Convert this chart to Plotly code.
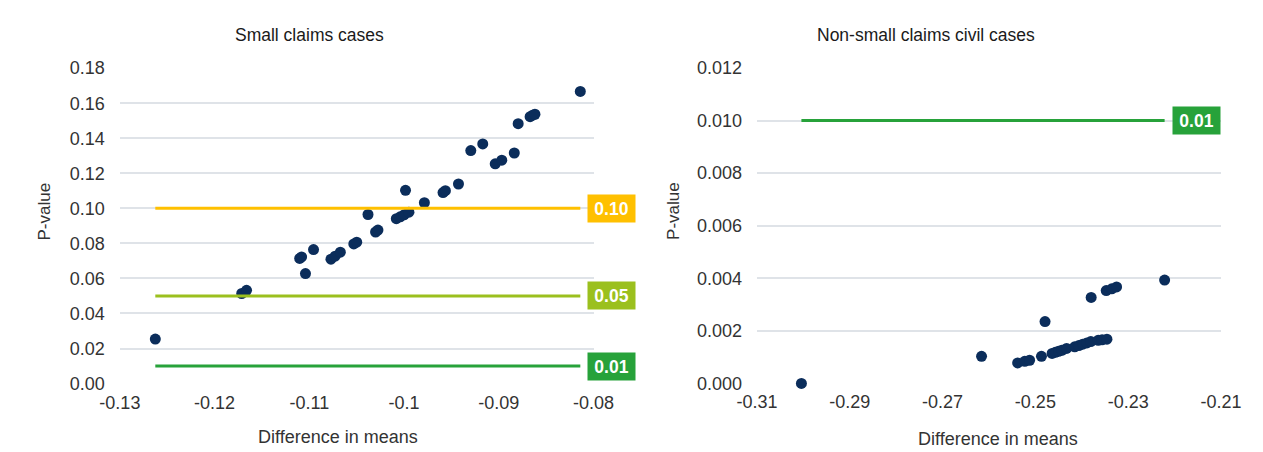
import plotly.graph_objects as go

# ---------------- data ----------------
small_x = [-0.12626, -0.11714, -0.11663, -0.11102, -0.11082, -0.11041, -0.10956,
           -0.10772, -0.10728, -0.10673, -0.10531, -0.10500, -0.10381, -0.10301,
           -0.10276, -0.10082, -0.10041, -0.10000, -0.09949, -0.09985, -0.09786,
           -0.09589, -0.09564, -0.09426, -0.09296, -0.09170, -0.09038, -0.08969,
           -0.08837, -0.08796, -0.08670, -0.08643, -0.08619, -0.08140]
small_p = [0.0254, 0.0514, 0.0532, 0.0714, 0.0723, 0.0628, 0.0765,
           0.0710, 0.0727, 0.0750, 0.0797, 0.0807, 0.0965, 0.0865,
           0.0876, 0.0941, 0.0952, 0.0963, 0.0978, 0.1103, 0.1032,
           0.1090, 0.1101, 0.1139, 0.1330, 0.1368, 0.1254, 0.1275,
           0.1316, 0.1483, 0.1523, 0.1532, 0.1537, 0.1667]

civil_x = [-0.30042, -0.26160, -0.25382, -0.25229, -0.25125, -0.24869, -0.24792,
           -0.24640, -0.24570, -0.24500, -0.24431, -0.24327, -0.24152, -0.24063,
           -0.23979, -0.23890, -0.23806, -0.23646, -0.23562, -0.23458, -0.23798,
           -0.23473, -0.23354, -0.23250, -0.22215]
civil_p = [0.00000, 0.00103, 0.00078, 0.00084, 0.00088, 0.00103, 0.00235,
           0.00114, 0.00118, 0.00122, 0.00126, 0.00133, 0.00139, 0.00144,
           0.00149, 0.00154, 0.00159, 0.00164, 0.00166, 0.00168, 0.00327,
           0.00353, 0.00360, 0.00367, 0.00393]

small_thresholds = [0.10, 0.05, 0.01]
small_threshold_labels = ["0.10", "0.05", "0.01"]
civil_thresholds = [0.01]
civil_threshold_labels = ["0.01"]

small_xtick_vals = [-0.13, -0.12, -0.11, -0.10, -0.09, -0.08]
small_xtick_text = ["-0.13", "-0.12", "-0.11", "-0.1", "-0.09", "-0.08"]
civil_xtick_vals = [-0.31, -0.29, -0.27, -0.25, -0.23, -0.21]
civil_xtick_text = ["-0.31", "-0.29", "-0.27", "-0.25", "-0.23", "-0.21"]

titles = ["Small claims cases", "Non-small claims civil cases"]
x_title = "Difference in means"
y_title = "P-value"

# ---------------- styles ----------------
FONT = "Liberation Sans, Arial, sans-serif"
TXT = "#333333"
DOT = "#0B2D5B"
GRID = "#DFE3E8"
thr_colors = {"0.10": "#FFC000", "0.05": "#9BC01E", "0.01": "#27A23A"}

W, H = 1263, 452

fig = go.Figure()

fig.add_trace(go.Scatter(x=small_x, y=small_p, mode="markers",
                         marker=dict(color=DOT, size=11), cliponaxis=False,
                         xaxis="x", yaxis="y", showlegend=False))
fig.add_trace(go.Scatter(x=civil_x, y=civil_p, mode="markers",
                         marker=dict(color=DOT, size=11), cliponaxis=False,
                         xaxis="x2", yaxis="y2", showlegend=False))

annotations = []


def add_thresholds(xs, vals, labels, xa, ya):
    x0, x1 = min(xs), max(xs)
    for v, lab in zip(vals, labels):
        col = thr_colors[lab]
        fig.add_trace(go.Scatter(x=[x0, x1], y=[v, v], mode="lines",
                                 line=dict(color=col, width=3),
                                 xaxis=xa, yaxis=ya, showlegend=False,
                                 hoverinfo="skip"))
        annotations.append(dict(x=x1, y=v, xref=xa, yref=ya, text="<b>%s</b>" % lab,
                                showarrow=False, xanchor="left", yanchor="middle",
                                xshift=7, bgcolor=col, width=43, height=23,
                                borderpad=2, align="center",
                                font=dict(family=FONT, size=17.5, color="white")))


add_thresholds(small_x, small_thresholds, small_threshold_labels, "x", "y")
add_thresholds(civil_x, civil_thresholds, civil_threshold_labels, "x2", "y2")


def px(xp):
    return xp / W


def py(yp):
    return 1 - yp / H


def label(text, x, y, size, angle=0, color=TXT):
    return dict(text=text, x=px(x), y=py(y), xref="paper", yref="paper",
                xanchor="center", yanchor="middle", textangle=angle,
                showarrow=False, font=dict(family=FONT, size=size, color=color))


annotations += [
    label(titles[0], 290, 18, 17.5, color="#1a1a1a"),
    label(titles[1], 928, 18, 17.5, color="#1a1a1a"),
    label(x_title, 320, 438, 18),
    label(x_title, 1002, 440, 18),
    label(y_title, 16, 202, 17, angle=-90),
    label(y_title, 666, 202, 17, angle=-90),
]

axis_common = dict(showline=False, zeroline=False, ticks="",
                   tickfont=dict(family=FONT, size=18, color=TXT))

fig.update_layout(
    width=W, height=H,
    margin=dict(l=0, r=0, t=0, b=0),
    paper_bgcolor="white", plot_bgcolor="white",
    showlegend=False,
    xaxis=dict(domain=[px(94), px(584)], range=[-0.13, -0.08],
               tickvals=small_xtick_vals, ticktext=small_xtick_text,
               showgrid=False, anchor="y", ticklabelstandoff=6, **axis_common),
    yaxis=dict(domain=[py(382.5), py(52.5)], range=[0, 0.18], dtick=0.02,
               tickformat=".2f", showgrid=True, gridcolor=GRID, gridwidth=2,
               anchor="x", ticklabelstandoff=14, **axis_common),
    xaxis2=dict(domain=[px(753), px(1233)], range=[-0.31, -0.21],
                tickvals=civil_xtick_vals, ticktext=civil_xtick_text,
                showgrid=False, anchor="y2", ticklabelstandoff=6, **axis_common),
    yaxis2=dict(domain=[py(382.3), py(52.3)], range=[0, 0.012], dtick=0.002,
                tickformat=".3f", showgrid=True, gridcolor=GRID, gridwidth=2,
                anchor="x2", ticklabelstandoff=14, **axis_common),
    annotations=annotations,
)

fig.write_html("out.html")
